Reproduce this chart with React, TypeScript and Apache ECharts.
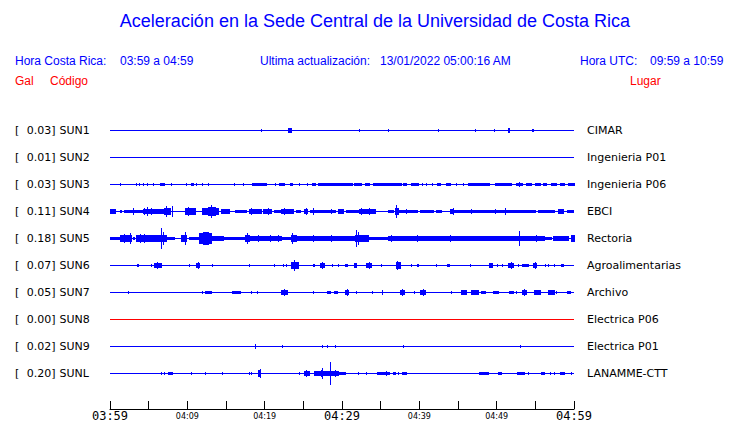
import React, { useEffect, useRef } from "react";
import * as echarts from "echarts";

// ---------- data ----------
const TITLE = "Aceleración en la Sede Central de la Universidad de Costa Rica";
const LOCAL_LABEL = "Hora Costa Rica:";
const LOCAL_RANGE = "03:59 a 04:59";
const UPDATED_LABEL = "Ultima actualización:";
const UPDATED = "13/01/2022 05:00:16 AM";
const UTC_LABEL = "Hora UTC:";
const UTC_RANGE = "09:59 a 10:59";
const HEAD_UNIT = "Gal";
const HEAD_CODE = "Código";
const HEAD_PLACE = "Lugar";

const START_MIN = 3 * 60 + 59; // 03:59
const SPAN_MIN = 60;
const TICK_STEP = 5;
const LABEL_STEP = 10;
const BIG_LABELS = [0, 30, 60];

const CODES = ["SUN1", "SUN2", "SUN3", "SUN4", "SUN5", "SUN6", "SUN7", "SUN8", "SUN9", "SUNL"];
const PEAKS = [0.03, 0.01, 0.03, 0.11, 0.18, 0.07, 0.05, 0.0, 0.02, 0.2];
const PLACES = [
  "CIMAR", "Ingenieria P01", "Ingenieria P06", "EBCI", "Rectoria",
  "Agroalimentarias", "Archivo", "Electrica P06", "Electrica P01", "LANAMME-CTT",
];

// events: [start minute, end minute, half amplitude (gal)]
const SUN1 = [
  [19.6, 19.6, 0.012], [23.1, 23.5, 0.036], [32.2, 32.2, 0.024], [36.0, 36.0, 0.018],
  [42.5, 42.5, 0.024], [47.2, 47.2, 0.018], [49.7, 49.7, 0.024], [51.5, 51.7, 0.03],
  [54.6, 54.6, 0.024], [54.8, 54.8, 0.012],
];
const SUN2: number[][] = [];
const SUN3 = [
  [1.4, 1.4, 0.012], [3.4, 3.4, 0.018], [3.8, 3.8, 0.018], [4.3, 4.3, 0.018], [4.9, 4.9, 0.018],
  [5.6, 5.6, 0.012], [6.5, 7.0, 0.024], [8.0, 8.0, 0.018], [9.9, 9.9, 0.018], [10.6, 10.8, 0.018],
  [11.2, 11.2, 0.018], [11.9, 11.9, 0.018], [12.8, 12.8, 0.018], [16.1, 16.1, 0.012], [17.2, 17.2, 0.018],
  [18.4, 20.2, 0.024], [21.4, 21.4, 0.018], [21.9, 22.5, 0.018], [23.4, 23.6, 0.018], [24.5, 24.5, 0.018],
  [25.6, 25.6, 0.018], [26.2, 26.6, 0.024], [26.9, 31.3, 0.024], [31.6, 32.5, 0.024], [33.0, 33.6, 0.024],
  [34.1, 37.7, 0.024], [38.0, 38.4, 0.018], [39.0, 39.9, 0.024], [40.4, 40.4, 0.018], [40.9, 40.9, 0.018],
  [41.7, 41.7, 0.018], [42.3, 42.7, 0.018], [43.5, 44.0, 0.018], [44.8, 44.8, 0.018], [45.7, 45.7, 0.018],
  [46.3, 49.1, 0.024], [49.9, 51.9, 0.024], [52.6, 53.4, 0.024], [53.0, 53.0, 0.036], [53.9, 54.5, 0.018],
  [55.0, 55.7, 0.018], [56.0, 56.5, 0.018], [57.1, 57.8, 0.018], [58.2, 58.8, 0.018], [59.3, 60.0, 0.018],
];
const SUN4 = [
  [0, 0.7, 0.03], [0.3, 0.3, 0.042], [1.3, 1.5, 0.018], [1.9, 4.3, 0.024], [3.0, 3.0, 0.048],
  [4.3, 6.5, 0.036], [4.5, 4.5, 0.06], [4.9, 4.9, 0.072], [5.4, 5.4, 0.048], [6.5, 7.1, 0.03],
  [7.1, 7.8, 0.06], [7.3, 7.3, 0.09], [8.1, 8.1, 0.09], [9.7, 11.0, 0.048], [10.1, 10.1, 0.072],
  [11.9, 14.0, 0.048], [12.7, 13.6, 0.072], [13.1, 13.1, 0.108], [14.4, 15.5, 0.036], [16.2, 17.7, 0.024],
  [18.1, 19.6, 0.036], [18.3, 18.3, 0.06], [19.8, 20.9, 0.03], [20.5, 20.5, 0.048], [21.3, 22.2, 0.018],
  [22.2, 23.7, 0.036], [22.6, 22.6, 0.06], [24.1, 24.6, 0.018], [25.2, 25.6, 0.03], [25.4, 25.4, 0.048],
  [25.9, 29.1, 0.024], [26.3, 26.3, 0.048], [28.7, 28.7, 0.036], [29.5, 30.2, 0.03], [30.6, 32.1, 0.024],
  [32.3, 34.3, 0.036], [32.5, 32.5, 0.06], [33.6, 33.6, 0.048], [36.0, 36.6, 0.024], [36.9, 37.3, 0.06],
  [37.1, 37.1, 0.108], [37.3, 39.7, 0.024], [38.4, 38.4, 0.042], [40.1, 41.8, 0.024], [42.2, 42.9, 0.018],
  [44.0, 44.4, 0.036], [44.4, 44.4, 0.06], [44.4, 49.8, 0.024], [46.8, 46.8, 0.036], [49.8, 49.8, 0.042],
  [49.8, 52.4, 0.024], [51.1, 51.1, 0.048], [52.6, 55.0, 0.024], [55.4, 57.5, 0.024], [58.0, 58.6, 0.036],
  [59.1, 59.9, 0.024],
];
const SUN5 = [
  [0, 1.3, 0.024], [1.3, 2.8, 0.048], [1.9, 1.9, 0.072], [2.6, 2.6, 0.084], [3.0, 3.2, 0.024],
  [3.4, 5.8, 0.048], [3.9, 3.9, 0.072], [4.5, 4.5, 0.072], [5.4, 5.4, 0.06], [5.8, 7.3, 0.06],
  [6.7, 6.7, 0.18], [6.9, 6.9, 0.12], [7.3, 8.4, 0.024], [9.3, 9.9, 0.048], [9.7, 9.7, 0.108],
  [10.3, 11.6, 0.024], [11.6, 13.1, 0.09], [12.1, 12.7, 0.12], [13.1, 14.7, 0.042], [14.7, 17.5, 0.024],
  [17.5, 18.1, 0.06], [17.8, 17.8, 0.09], [18.1, 22.2, 0.036], [19.2, 19.2, 0.048], [20.7, 20.7, 0.048],
  [21.8, 21.8, 0.048], [22.2, 23.3, 0.018], [23.5, 24.1, 0.06], [23.6, 23.6, 0.09], [24.1, 26.9, 0.036],
  [26.3, 26.3, 0.06], [26.9, 31.7, 0.03], [28.7, 28.7, 0.048], [31.7, 33.4, 0.06], [31.9, 31.9, 0.15],
  [32.1, 32.1, 0.108], [33.4, 36.0, 0.024], [36.0, 38.1, 0.036], [36.4, 36.4, 0.06], [38.1, 46.6, 0.03],
  [39.7, 39.7, 0.054], [44.0, 44.0, 0.048], [46.6, 49.8, 0.036], [49.8, 52.8, 0.03], [52.9, 52.9, 0.132],
  [53.0, 56.2, 0.036], [55.2, 55.2, 0.06], [56.2, 57.1, 0.018], [57.3, 59.3, 0.03], [59.7, 60.0, 0.06],
];
const SUN6 = [
  [3.5, 3.7, 0.018], [5.4, 5.4, 0.018], [5.8, 6.7, 0.036], [6.2, 6.2, 0.06], [10.3, 10.3, 0.012],
  [11.2, 11.6, 0.036], [11.4, 11.4, 0.054], [13.2, 13.2, 0.018], [18.0, 18.0, 0.018], [21.3, 21.3, 0.024],
  [22.4, 22.4, 0.018], [22.8, 22.8, 0.018], [23.5, 24.4, 0.048], [23.9, 23.9, 0.084], [26.3, 26.5, 0.024],
  [27.2, 27.8, 0.042], [27.5, 27.5, 0.06], [28.8, 28.8, 0.024], [29.5, 29.5, 0.018], [30.4, 30.7, 0.024],
  [31.6, 31.9, 0.03], [33.2, 33.8, 0.042], [33.5, 33.5, 0.06], [35.1, 35.1, 0.024], [37.0, 37.5, 0.048],
  [37.2, 37.2, 0.078], [39.0, 39.0, 0.018], [39.7, 39.9, 0.024], [42.2, 42.2, 0.012], [43.7, 43.9, 0.024],
  [46.6, 46.6, 0.024], [49.1, 49.4, 0.03], [50.1, 50.1, 0.024], [50.7, 50.7, 0.024], [51.5, 52.2, 0.036],
  [51.9, 51.9, 0.048], [52.8, 52.8, 0.024], [53.4, 54.1, 0.024], [54.7, 55.2, 0.042], [55.0, 55.0, 0.06],
  [56.3, 56.3, 0.024], [56.7, 56.7, 0.024], [57.5, 57.5, 0.018], [58.4, 58.6, 0.024],
];
const SUN7 = [
  [2.4, 2.4, 0.012], [11.9, 11.9, 0.012], [12.4, 13.1, 0.024], [15.8, 16.9, 0.024], [18.3, 18.3, 0.024],
  [19.1, 19.1, 0.024], [22.2, 23.0, 0.036], [22.6, 22.6, 0.06], [26.3, 26.3, 0.024], [28.1, 28.5, 0.024],
  [29.0, 29.4, 0.024], [30.5, 30.9, 0.03], [30.7, 30.7, 0.048], [31.9, 31.9, 0.018], [34.0, 34.0, 0.018],
  [35.3, 35.3, 0.03], [37.6, 38.1, 0.03], [37.8, 37.8, 0.048], [39.4, 39.4, 0.024], [40.2, 40.8, 0.036],
  [40.5, 40.5, 0.06], [44.2, 44.2, 0.018], [45.4, 46.1, 0.03], [46.7, 47.6, 0.03], [48.1, 48.5, 0.024],
  [49.6, 50.2, 0.024], [51.7, 52.2, 0.024], [52.6, 52.6, 0.018], [53.4, 53.9, 0.036], [53.6, 53.6, 0.048],
  [54.9, 55.7, 0.03], [56.7, 57.5, 0.03], [57.8, 57.8, 0.018], [59.2, 59.5, 0.024],
];
const SUN8: number[][] = [];
const SUN9 = [
  [18.8, 18.8, 0.03], [22.3, 22.3, 0.024], [27.5, 27.5, 0.018], [28.1, 28.1, 0.024],
  [29.1, 29.1, 0.024], [37.9, 37.9, 0.012], [53.1, 53.1, 0.018],
];
const SUNL = [
  [6.7, 6.7, 0.018], [7.1, 7.1, 0.018], [7.5, 8.1, 0.024], [10.5, 10.5, 0.018], [10.6, 10.6, 0.018],
  [12.3, 12.3, 0.012], [14.5, 14.5, 0.012], [18.0, 18.0, 0.018], [18.3, 18.3, 0.018], [19.2, 19.5, 0.048],
  [19.4, 19.4, 0.078], [24.5, 24.5, 0.018], [25.1, 25.8, 0.03], [25.4, 25.4, 0.048], [26.4, 29.5, 0.03],
  [27.3, 27.3, 0.06], [27.5, 27.5, 0.084], [28.5, 28.5, 0.204], [29.1, 29.1, 0.048], [29.7, 30.5, 0.024],
  [32.1, 32.1, 0.018], [33.2, 33.2, 0.018], [34.6, 36.2, 0.024], [35.8, 35.8, 0.036], [36.6, 36.9, 0.024],
  [37.3, 37.3, 0.024], [37.8, 38.3, 0.024], [47.8, 48.9, 0.024], [50.3, 50.6, 0.024], [52.7, 53.6, 0.024],
  [54.1, 54.1, 0.018], [55.8, 56.2, 0.018], [56.9, 56.9, 0.018], [57.5, 57.5, 0.018], [58.2, 58.8, 0.024],
  [59.7, 59.7, 0.018],
];
const TRACES = [SUN1, SUN2, SUN3, SUN4, SUN5, SUN6, SUN7, SUN8, SUN9, SUNL];

// ---------- layout / style ----------
const W = 740;
const H = 423;
const BLUE = "#0000ff";
const RED = "#ff0000";
const PLOT_LEFT = 110;
const PLOT_RIGHT = 574;
const AXIS_Y = 409;
const GRID_TOP = 103.5;
const ROW_PX = 27;
const ROW_GAL = 0.5; // vertical spacing between traces in gal
const PX_PER_GAL = ROW_PX / ROW_GAL;
const Y_MIN = -ROW_GAL;
const Y_MAX = (AXIS_Y - GRID_TOP) / PX_PER_GAL - ROW_GAL;
const HEAD_FONT = "Liberation Sans";
const LABEL_FONT = "DejaVu Sans";

const pad = (n: number) => (n < 10 ? "0" + n : "" + n);
const clock = (m: number) => pad(Math.floor(m / 60) % 24) + ":" + pad(m % 60);

function txt(text: string, x: number, y: number, fill: string, size: number, family: string, align = "left") {
  return {
    type: "text",
    silent: true,
    style: {
      text, x, y, fill,
      fontSize: size, fontFamily: family,
      align, textAlign: align,
      verticalAlign: "middle", textVerticalAlign: "middle",
    },
  };
}

export default function App() {
  const ref = useRef<HTMLDivElement>(null);
  useEffect(() => {
    if (!ref.current) return;
    const chart = echarts.init(ref.current, undefined, { renderer: "svg" });

    const rowPx = (i: number) => GRID_TOP + ROW_PX * (i + 1);

    const graphics: any[] = [
      txt(TITLE, W / 2 + 5, 21, BLUE, 18, HEAD_FONT, "center"),
      txt(LOCAL_LABEL, 15, 61, BLUE, 12, HEAD_FONT),
      txt(LOCAL_RANGE, 120, 61, BLUE, 12, HEAD_FONT),
      txt(UPDATED_LABEL, 260, 61, BLUE, 12, HEAD_FONT),
      txt(UPDATED, 380, 61, BLUE, 12, HEAD_FONT),
      txt(UTC_LABEL, 580, 61, BLUE, 12, HEAD_FONT),
      txt(UTC_RANGE, 650, 61, BLUE, 12, HEAD_FONT),
      txt(HEAD_UNIT, 15, 81, RED, 12, HEAD_FONT),
      txt(HEAD_CODE, 50, 81, RED, 12, HEAD_FONT),
      txt(HEAD_PLACE, 630, 81, RED, 12, HEAD_FONT),
    ];
    CODES.forEach((code, i) => {
      const y = Math.round(rowPx(i)) - 1;
      graphics.push(txt("[", 15, y, "#000", 11, LABEL_FONT));
      graphics.push(txt(PEAKS[i].toFixed(2) + "]", 55.5, y, "#000", 11, LABEL_FONT, "right"));
      graphics.push(txt(code, 59.5, y, "#000", 11, LABEL_FONT));
      graphics.push(txt(PLACES[i], 587, y, "#000", 11, LABEL_FONT));
    });

    const baselines = TRACES.map((_, i) => ({
      type: "line",
      silent: true,
      symbol: "none",
      showSymbol: false,
      color: PEAKS[i] === 0 ? RED : BLUE,
      data: [[0, i * ROW_GAL], [SPAN_MIN, i * ROW_GAL]],
      lineStyle: { width: 1, color: PEAKS[i] === 0 ? RED : BLUE },
      z: 2,
    }));

    const eventData: number[][] = [];
    TRACES.forEach((tr, i) => tr.forEach((e) => eventData.push([e[0], e[1], e[2], i])));

    const option: any = {
      animation: false,
      grid: {
        left: PLOT_LEFT,
        right: W - PLOT_RIGHT,
        top: GRID_TOP,
        bottom: H - AXIS_Y,
        containLabel: false,
      },
      xAxis: {
        type: "value",
        position: "bottom",
        min: 0,
        max: SPAN_MIN,
        interval: TICK_STEP,
        splitLine: { show: false },
        axisLine: { show: true, onZero: false, lineStyle: { color: "#000", width: 1 } },
        axisTick: { show: true, inside: true, length: 8, lineStyle: { color: "#000", width: 1 } },
        axisLabel: {
          margin: 1,
          color: "#000",
          formatter: (v: number) => {
            if (v % LABEL_STEP !== 0) return "";
            const s = clock(START_MIN + v);
            return BIG_LABELS.includes(v) ? "{big|" + s + "}" : "{small|" + s + "}";
          },
          rich: {
            big: { fontFamily: "DejaVu Sans Mono", fontSize: 12, color: "#000" },
            small: { fontFamily: LABEL_FONT, fontSize: 8, color: "#000", padding: [2, 0, 0, 0] },
          },
        },
      },
      yAxis: {
        type: "value",
        show: false,
        inverse: true,
        min: Y_MIN,
        max: Y_MAX,
      },
      graphic: graphics,
      series: [
        ...baselines,
        {
          type: "custom",
          silent: true,
          z: 3,
          clip: false,
          data: eventData,
          encode: { x: [0, 1], y: 2 },
          renderItem: (_p: any, api: any) => {
            const t0 = api.value(0), t1 = api.value(1), amp = api.value(2), row = api.value(3);
            const base = row * ROW_GAL;
            const a = api.coord([t0, base - amp]);
            const b = api.coord([t1, base + amp]);
            const x0 = Math.floor(Math.min(a[0], b[0]));
            const x1 = Math.max(x0 + 1, Math.floor(Math.max(a[0], b[0])) + 1);
            const y0 = Math.floor(Math.min(a[1], b[1]));
            const y1 = Math.ceil(Math.max(a[1], b[1]));
            return {
              type: "rect",
              shape: { x: x0, y: y0, width: x1 - x0, height: Math.max(1, y1 - y0) },
              style: { fill: BLUE },
            };
          },
        },
      ],
    };
    chart.setOption(option);
    return () => chart.dispose();
  }, []);
  return <div ref={ref} style={{ position: "fixed", left: 0, top: 0, width: W, height: H, background: "#fff" }} />;
}
